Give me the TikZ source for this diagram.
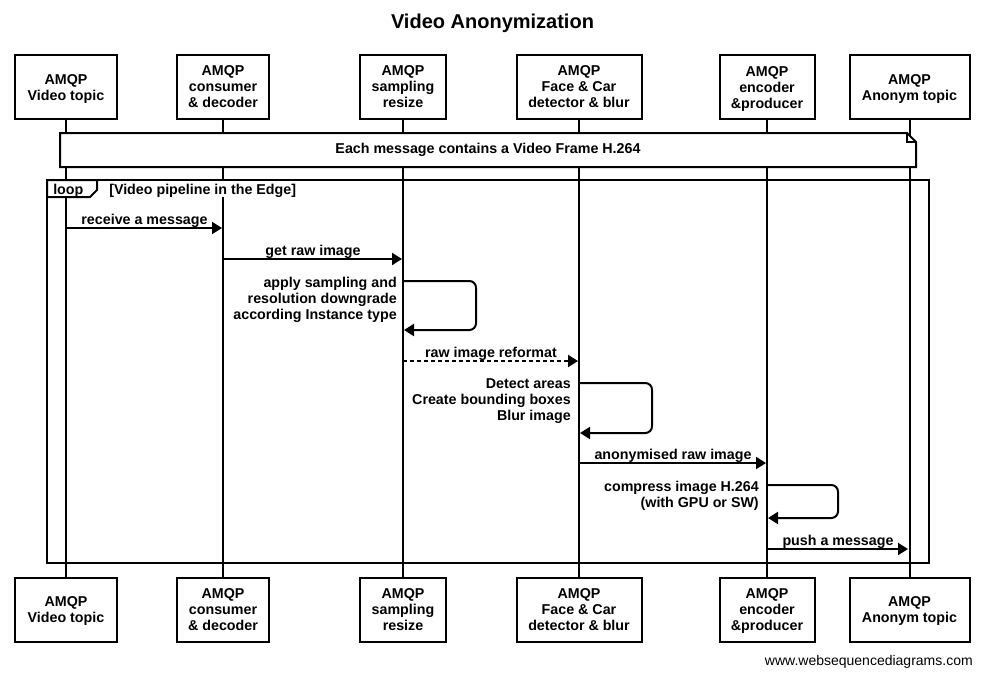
\documentclass[tikz,border=0pt]{standalone}
\usepackage{fontspec}
\setmainfont{Liberation Sans}
\usetikzlibrary{arrows.meta}
\newcommand{\dn}{\rule{0pt}{9.9pt}}
\begin{document}
\begin{tikzpicture}[x=0.75pt,y=-0.75pt,
  every node/.style={font=\fontsize{10.7}{12}\selectfont\bfseries},
  actor/.style={draw,line width=1.5pt,align=center,minimum height=48pt,inner sep=0pt},
  life/.style={line width=1.5pt},
  msg/.style={line width=1.5pt,-{Triangle[length=7.5pt,width=9pt]}},
  selfmsg/.style={msg,rounded corners=5pt},
  lbl/.style={anchor=base,inner sep=0pt},
  selflbl/.style={anchor=north east,align=right,inner sep=0pt},
  frame/.style={line width=1.5pt},
]
\useasboundingbox (0,0) rectangle (984,676);
\fill[white] (0,0) rectangle (984,676);

% title
\node[font=\fontsize{15}{18}\selectfont\bfseries,anchor=base,inner sep=0pt] (title) at (492.5,28) {Video Anonymization};

% actors top
\node[actor,minimum width=76.5pt] (a1) at (66,87)    {\dn AMQP\\Video topic};
\node[actor,minimum width=69pt]   (a2) at (223,87)   {AMQP\\consumer\\\& decoder};
\node[actor,minimum width=64.5pt] (a3) at (403,87)   {AMQP\\sampling\\resize};
\node[actor,minimum width=93.75pt](a4) at (579,87)   {AMQP\\Face \& Car\\detector \& blur};
\node[actor,minimum width=71.25pt](a5) at (767,87)   {\dn AMQP\\encoder\\\&producer};
\node[actor,minimum width=90pt]   (a6) at (909.5,87) {\dn AMQP\\Anonym topic};
% actors bottom
\node[actor,minimum width=76.5pt] (b1) at (66,609.5)    {\dn AMQP\\Video topic};
\node[actor,minimum width=69pt]   (b2) at (223,609.5)   {AMQP\\consumer\\\& decoder};
\node[actor,minimum width=64.5pt] (b3) at (403,609.5)   {AMQP\\sampling\\resize};
\node[actor,minimum width=93.75pt](b4) at (579,609.5)   {AMQP\\Face \& Car\\detector \& blur};
\node[actor,minimum width=71.25pt](b5) at (767,609.5)   {\dn AMQP\\encoder\\\&producer};
\node[actor,minimum width=90pt]   (b6) at (909.5,609.5) {\dn AMQP\\Anonym topic};

% lifelines
\foreach \i in {1,...,6} { \draw[life] (a\i.south) -- (b\i.north); }

% note
\draw[frame,fill=white] (60,133) -- (907,133) -- (916,142) -- (916,167) -- (60,167) -- cycle;
\draw[frame] (907,133) -- (907,142) -- (916,142);
\node (note) at (488,150) {Each message contains a Video Frame H.264};

% loop
\node[anchor=base west,fill=white,inner xsep=1.5pt,inner ysep=0pt,text height=10.5pt,text depth=2.4pt] (cond) at (107,194) {[Video pipeline in the Edge]};
\draw[frame] (47,180) rectangle (929,563);
\draw[frame,fill=white] (47,180) -- (97,180) -- (97,190) -- (90,197) -- (47,197) -- cycle;
\node[anchor=base west,inner sep=0pt] (loop) at (53,194) {loop};

% messages
\coordinate (m1s) at (66,228);  \coordinate (m1e) at (222,228);
\draw[msg] (m1s) -- (m1e);
\node[lbl] (l1) at (144.5,224) {receive a message};

\coordinate (m2s) at (223,259); \coordinate (m2e) at (402,259);
\draw[msg] (m2s) -- (m2e);
\node[lbl] (l2) at (313,255) {get raw image};

\coordinate (s1s) at (404,281); \coordinate (s1e) at (404,330);
\draw[selfmsg] (s1s) -- (476,281) -- (476,330) -- (s1e);
\node[selflbl] (l3) at (397,277) {apply sampling and\\resolution downgrade\\according Instance type};

\coordinate (m3s) at (403,361); \coordinate (m3e) at (578,361);
\draw[msg,dash pattern=on 3pt off 2.25pt] (m3s) -- (m3e);
\node[lbl] (l4) at (491,357) {raw image reformat};

\coordinate (s2s) at (580,383); \coordinate (s2e) at (580,433);
\draw[selfmsg] (s2s) -- (652,383) -- (652,433) -- (s2e);
\node[selflbl] (l5) at (571,378) {Detect areas\\Create bounding boxes\\Blur image};

\coordinate (m4s) at (579,463); \coordinate (m4e) at (766,463);
\draw[msg] (m4s) -- (m4e);
\node[lbl] (l6) at (673,459) {anonymised raw image};

\coordinate (s3s) at (768,485); \coordinate (s3e) at (768,518);
\draw[selfmsg] (s3s) -- (838,485) -- (838,518) -- (s3e);
\node[selflbl] (l7) at (759,481) {compress image H.264\\(with GPU or SW)};

\coordinate (m5s) at (767,549); \coordinate (m5e) at (908,549);
\draw[msg] (m5s) -- (m5e);
\node[lbl] (l8) at (838,545) {push a message};

% footer
\node[anchor=base east,inner sep=0pt,font=\fontsize{10.5}{12}\selectfont] (foot) at (973,665) {www.websequencediagrams.com};
\end{tikzpicture}
\end{document}
